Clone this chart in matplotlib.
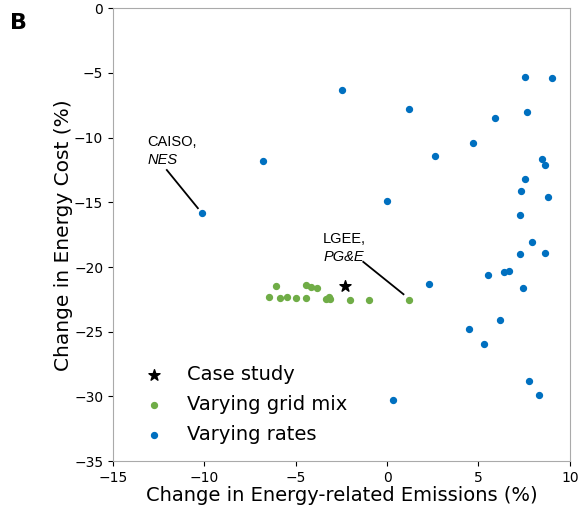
import matplotlib.pyplot as plt

# Varying rates (blue)
rates_x = [-10.15, -6.8, -2.45, 1.2, 0.0, 2.6, 4.7, 5.9, 7.55, 9.0, 7.65,
           8.5, 8.65, 7.55, 7.35, 8.8, 7.25, 7.95, 7.25, 8.65, 5.5, 6.4,
           6.65, 2.3, 7.45, 6.2, 4.5, 5.3, 7.75, 8.3, 0.35]
rates_y = [-15.8, -11.8, -6.3, -7.75, -14.9, -11.45, -10.4, -8.45, -5.3, -5.4, -8.05,
           -11.65, -12.1, -13.2, -14.1, -14.6, -15.95, -18.1, -19.0, -18.9, -20.65, -20.35,
           -20.3, -21.3, -21.65, -24.1, -24.75, -25.95, -28.8, -29.85, -30.25]

# Varying grid mix (green)
grid_x = [-6.45, -6.05, -5.85, -5.5, -5.0, -4.45, -4.15, -3.85, -4.45, -3.35,
          -3.2, -3.1, -2.05, -1.0, 1.2]
grid_y = [-22.3, -21.45, -22.4, -22.35, -22.4, -21.4, -21.55, -21.65, -22.4, -22.45,
          -22.35, -22.5, -22.55, -22.55, -22.55]

# Case study
case_x = [-2.3]
case_y = [-21.45]

fig = plt.figure(figsize=(5.85, 5.17), dpi=100)
ax = fig.add_axes([0.193, 0.108, 0.781, 0.876])

ax.scatter(case_x, case_y, marker='*', s=70, color='black', label='Case study', zorder=3)
ax.scatter(grid_x, grid_y, s=18, color='#70ad47', label='Varying grid mix', zorder=2)
ax.scatter(rates_x, rates_y, s=18, color='#0070c0', label='Varying rates', zorder=2)

ax.set_xlim(-15, 10)
ax.set_ylim(-35, 0)
ax.set_xticks([-15, -10, -5, 0, 5, 10])
ax.set_yticks([0, -5, -10, -15, -20, -25, -30, -35])
ax.tick_params(labelsize=10)
for s in ax.spines.values():
    s.set_color('#aaaaaa')

ax.set_xlabel('Change in Energy-related Emissions (%)', fontsize=14, labelpad=1)
ax.set_ylabel('Change in Energy Cost (%)', fontsize=14.5, labelpad=1)

# annotations
afont = ['Liberation Sans', 'DejaVu Sans']
ax.text(-13.1, -10.3, 'CAISO,', fontsize=10.5, family=afont, va='center')
ax.text(-13.1, -11.7, 'NES', fontsize=10.5, family=afont, style='italic', va='center')
ax.plot([-12.05, -10.35], [-12.5, -15.45], color='black', lw=1.3)

ax.text(-3.5, -17.8, 'LGEE,', fontsize=10.5, family=afont, va='center')
ax.text(-3.5, -19.2, 'PG&E', fontsize=10.5, family=afont, style='italic', va='center')
ax.plot([-1.3, 0.9], [-19.6, -22.1], color='black', lw=1.3)

ax.legend(loc='lower left', bbox_to_anchor=(0.01, 0.0), frameon=False, fontsize=14,
          handletextpad=0.7, labelspacing=0.55, borderaxespad=0.5)

fig.text(0.017, 0.955, 'B', fontsize=16, fontweight='bold', va='center')

fig.savefig('out.png', dpi=100)
